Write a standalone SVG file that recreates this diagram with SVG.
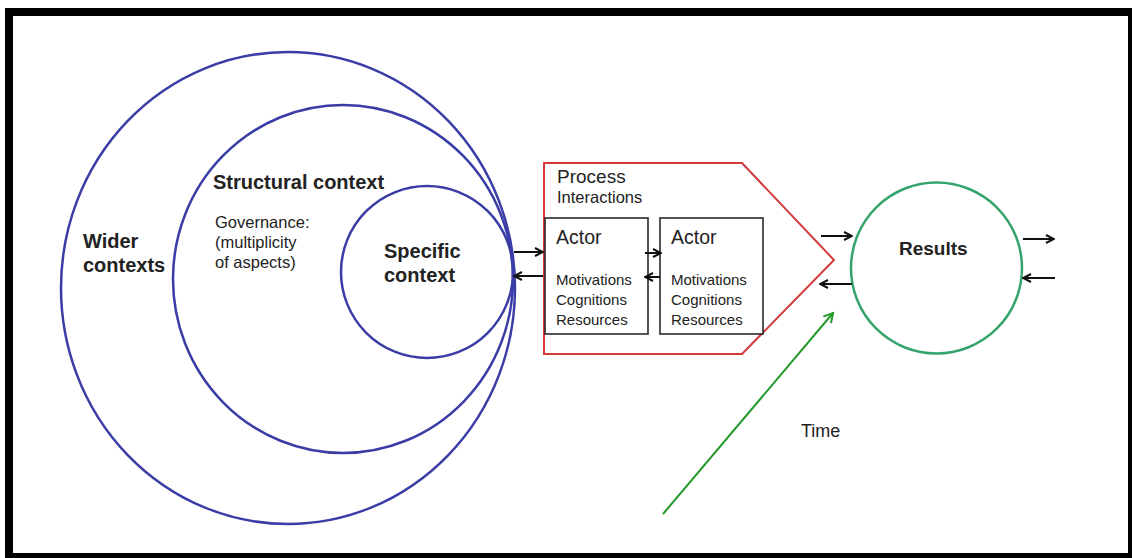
<svg xmlns="http://www.w3.org/2000/svg" width="1132" height="558" viewBox="0 0 1132 558">
  <style>
    .ctx { fill: none; stroke: #3a3da6; stroke-width: 2.5; }
    .bold { font-family: "Liberation Sans", Arial, sans-serif; font-weight: bold; fill: #222; }
    .reg { font-family: "Liberation Sans", Arial, sans-serif; fill: #222; }
    .box { fill: #fff; stroke: #2a2a2a; stroke-width: 1.6; }
    .link { fill: none; stroke: #111; stroke-width: 2; }
  </style>
  <defs>
    <marker id="head" viewBox="0 0 10 10" refX="9" refY="5" markerWidth="10" markerHeight="10" markerUnits="userSpaceOnUse" orient="auto">
      <path d="M1,1 L9,5 L1,9" fill="none" stroke="#111" stroke-width="2"/>
    </marker>
    <marker id="headGreen" viewBox="0 0 12 12" refX="10" refY="6" markerWidth="12" markerHeight="12" markerUnits="userSpaceOnUse" orient="auto">
      <path d="M1,1 L10,6 L1,11" fill="none" stroke="#22992a" stroke-width="2"/>
    </marker>
  </defs>

  <!-- page -->
  <rect x="0" y="0" width="1132" height="558" fill="#fff"/>
  <rect x="9" y="12" width="1123" height="545" fill="none" stroke="#000" stroke-width="8"/>

  <!-- nested contexts -->
  <g id="wider-contexts">
    <ellipse class="ctx" cx="288" cy="288" rx="227" ry="236"/>
    <text class="bold" font-size="20" x="83" y="248">Wider</text>
    <text class="bold" font-size="20" x="83" y="272">contexts</text>
  </g>
  <g id="structural-context">
    <ellipse class="ctx" cx="343" cy="279" rx="170" ry="174"/>
    <text class="bold" font-size="20" x="213" y="189">Structural context</text>
    <text class="reg" font-size="16.5" x="215" y="228">Governance:</text>
    <text class="reg" font-size="16.5" x="215" y="248">(multiplicity</text>
    <text class="reg" font-size="16.5" x="215" y="268">of aspects)</text>
  </g>
  <g id="specific-context">
    <ellipse class="ctx" cx="427" cy="272" rx="86" ry="86"/>
    <text class="bold" font-size="20" x="384" y="258">Specific</text>
    <text class="bold" font-size="20" x="384" y="282">context</text>
  </g>

  <!-- process with actors -->
  <g id="process">
    <path d="M544,163 L742,163 L834,260 L742,354 L544,354 Z" fill="#fff" stroke="#d23a3a" stroke-width="2"/>
    <text class="reg" font-size="19" x="557" y="183">Process</text>
    <text class="reg" font-size="16.5" x="557" y="203">Interactions</text>
  </g>
  <g id="actor-1">
    <rect class="box" x="545" y="218" width="103" height="116"/>
    <text class="reg" font-size="19.5" x="556" y="244">Actor</text>
    <text class="reg" font-size="15" x="556" y="285">Motivations</text>
    <text class="reg" font-size="15" x="556" y="305">Cognitions</text>
    <text class="reg" font-size="15" x="556" y="325">Resources</text>
  </g>
  <g id="actor-2">
    <rect class="box" x="660" y="218" width="103" height="116"/>
    <text class="reg" font-size="19.5" x="671" y="244">Actor</text>
    <text class="reg" font-size="15" x="671" y="285">Motivations</text>
    <text class="reg" font-size="15" x="671" y="305">Cognitions</text>
    <text class="reg" font-size="15" x="671" y="325">Resources</text>
  </g>

  <!-- results -->
  <g id="results">
    <circle cx="936.5" cy="268" r="85.5" fill="none" stroke="#35a46c" stroke-width="2.5"/>
    <text class="bold" font-size="19" x="899" y="255">Results</text>
  </g>

  <g id="time-label">
    <text class="reg" font-size="18" x="801" y="437">Time</text>
  </g>

  <!-- connectors -->
  <g id="connectors">
    <line class="link" x1="514" y1="252" x2="543" y2="252" marker-end="url(#head)"/>
    <line class="link" x1="543" y1="276" x2="514" y2="276" marker-end="url(#head)"/>
    <line class="link" x1="645" y1="253" x2="661" y2="253" marker-end="url(#head)"/>
    <line class="link" x1="660" y1="277" x2="645" y2="277" marker-end="url(#head)"/>
    <line class="link" x1="821" y1="236" x2="852" y2="236" marker-end="url(#head)"/>
    <line class="link" x1="852" y1="284" x2="820" y2="284" marker-end="url(#head)"/>
    <line class="link" x1="1023" y1="239" x2="1054" y2="239" marker-end="url(#head)"/>
    <line class="link" x1="1055" y1="278" x2="1023" y2="278" marker-end="url(#head)"/>
    <line x1="663" y1="514" x2="833" y2="313" stroke="#22992a" stroke-width="2" marker-end="url(#headGreen)"/>
  </g>
</svg>
